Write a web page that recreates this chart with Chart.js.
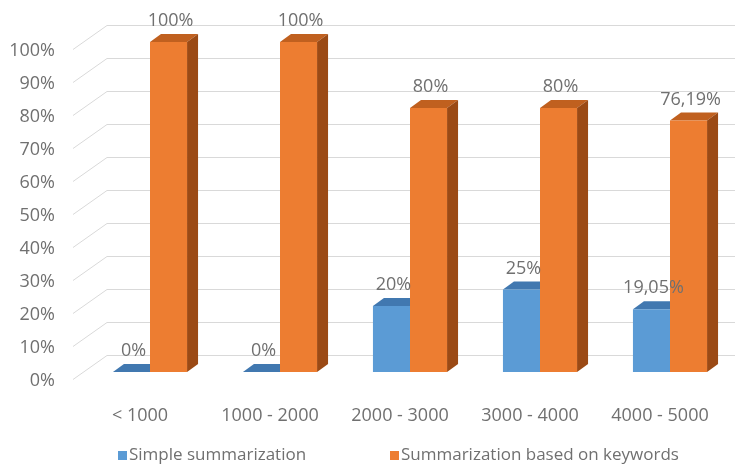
<!DOCTYPE html>
<html>
<head>
<meta charset="utf-8">
<script src="https://cdn.jsdelivr.net/npm/chart.js@4.4.1/dist/chart.umd.min.js"></script>
<style>
  html, body { margin: 0; padding: 0; background: #fff; }
  #wrap { width: 748px; height: 466px; }
</style>
</head>
<body>
<div id="wrap"><canvas id="chart" width="748" height="466"></canvas></div>
<script>
const categories = ['< 1000', '1000 - 2000', '2000 - 3000', '3000 - 4000', '4000 - 5000']
const simple = [0, 0, 20, 25, 19.05]
const keywords = [100, 100, 80, 80, 76.19]
const yTicks = [0, 10, 20, 30, 40, 50, 60, 70, 80, 90, 100]

const textColor = '#707070'
const font = { family: 'Open Sans', size: 18 }

// depth of the bars and of the back wall, in pixels
const bar3d = { dx: 11, dy: 8 }
const wall = { front: -12, back: 22, up: 24, down: 7 }

const fmt = v => String(v).replace('.', ',') + '%'

const threeD = {
    id: 'threeD',
    beforeDatasetsDraw(chart) {
        const c = chart.ctx
        const area = chart.chartArea
        const y = chart.scales.y
        // back wall grid + left wall diagonals
        c.save()
        c.strokeStyle = '#d9d9d9'
        c.lineWidth = 1
        yTicks.forEach(t => {
            const py = Math.round(y.getPixelForValue(t)) + 0.5
            c.beginPath()
            c.moveTo(area.left + wall.front, py + wall.down)
            c.lineTo(area.left + wall.back, py + wall.down - wall.up)
            c.lineTo(area.right, py + wall.down - wall.up)
            c.stroke()
        })
        // top and side faces of every bar
        chart.data.datasets.forEach((ds, i) => {
            const meta = chart.getDatasetMeta(i)
            meta.data.forEach(bar => {
                const l = bar.x - bar.width / 2
                const r = bar.x + bar.width / 2
                const t = bar.y
                const b = bar.base
                c.fillStyle = ds.topColor
                c.beginPath()
                c.moveTo(l, t)
                c.lineTo(r, t)
                c.lineTo(r + bar3d.dx, t - bar3d.dy)
                c.lineTo(l + bar3d.dx, t - bar3d.dy)
                c.closePath()
                c.fill()
                c.fillStyle = ds.sideColor
                c.beginPath()
                c.moveTo(r, t)
                c.lineTo(r + bar3d.dx, t - bar3d.dy)
                c.lineTo(r + bar3d.dx, b - bar3d.dy)
                c.lineTo(r, b)
                c.closePath()
                c.fill()
            })
        })
        c.restore()
    },
    afterDatasetsDraw(chart) {
        const c = chart.ctx
        c.save()
        c.fillStyle = textColor
        c.font = font.size + 'px "' + font.family + '"'
        c.textAlign = 'center'
        c.textBaseline = 'middle'
        chart.data.datasets.forEach((ds, i) => {
            chart.getDatasetMeta(i).data.forEach((bar, j) => {
                c.fillText(fmt(ds.data[j]), bar.x + 2, bar.y - 21)
            })
        })
        // legend
        const items = [{ x: 118 }, { x: 390 }]
        c.textAlign = 'left'
        c.font = '17px "' + font.family + '"'
        chart.data.datasets.forEach((ds, i) => {
            const lx = items[i].x
            const ly = 455
            c.fillStyle = ds.backgroundColor
            c.fillRect(lx, ly - 4, 9, 9)
            c.fillStyle = textColor
            c.fillText(ds.label, lx + 11, ly)
        })
        c.restore()
    }
}

const ctx = document.getElementById('chart').getContext('2d')

new Chart(ctx, {
    type: 'bar',
    data: {
        labels: categories,
        datasets: [{
            label: 'Simple summarization',
            data: simple,
            backgroundColor: '#5b9bd5',
            topColor: '#4178b0',
            sideColor: '#36618f'
        }, {
            label: 'Summarization based on keywords',
            data: keywords,
            backgroundColor: '#ed7d31',
            topColor: '#c0601f',
            sideColor: '#9b4a15'
        }]
    },
    options: {
        responsive: false,
        devicePixelRatio: 1,
        animation: false,
        categoryPercentage: 0.57,
        barPercentage: 1,
        layout: {
            padding: { top: 42, bottom: 44, left: 0, right: 13 }
        },
        scales: {
            x: {
                grid: { display: false },
                border: { display: false },
                ticks: { color: textColor, font: font, padding: 25, labelOffset: -10, maxRotation: 0 },
                afterFit: s => { s.height = 50 }
            },
            y: {
                min: 0,
                max: 100,
                grid: { display: false, drawTicks: false },
                border: { display: false },
                ticks: {
                    stepSize: 10,
                    color: textColor,
                    font: font,
                    padding: 30,
                    labelOffset: 9,
                    callback: v => v + '%'
                },
                afterFit: s => { s.width = 85 }
            }
        },
        plugins: {
            legend: { display: false },
            tooltip: { enabled: false }
        }
    },
    plugins: [threeD]
})
</script>
</body>
</html>
